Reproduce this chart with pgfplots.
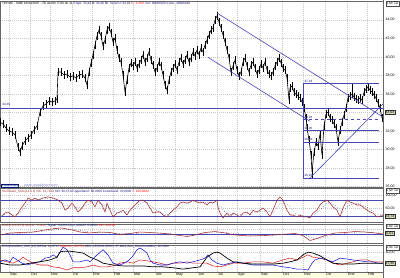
\documentclass[border=0pt]{standalone}
\usepackage{pgfplots}
\pgfplotsset{compat=1.18}
\usepackage{fontspec}
\setmainfont{Liberation Sans}
\definecolor{lineblue}{RGB}{70,70,180}
\definecolor{stochred}{RGB}{165,45,45}
\definecolor{navy}{RGB}{20,20,120}
\definecolor{dmiblue}{RGB}{25,25,210}
\definecolor{dmired}{RGB}{215,35,35}
\definecolor{cream}{RGB}{255,255,226}
\definecolor{hilite}{RGB}{215,215,185}
\newcommand{\tf}{\fontsize{3.6}{4}\selectfont}
\newcommand{\smf}{\fontsize{3.1}{3.5}\selectfont}
\pgfplotsset{
  panel/.style={
    scale only axis, width=383bp, xmin=0, xmax=383, anchor=south west,
    axis line style={black!60, line width=0.4pt},
    xtick={9,30,50,72,92,113,133,155,175,197,217,237,260,282,303,325,347,367},
    xticklabels={}, xmajorgrids, ymajorgrids,
    grid style={gray!45, dash pattern=on 1pt off 1pt, line width=0.3pt},
    major tick length=0pt,
    yticklabel pos=right,
    yticklabel style={font=\tf, inner sep=1pt, xshift=1.5bp},
    /pgf/number format/.cd, use comma, fixed, fixed zerofill, precision=2, assume math mode=true,
  },
}
\tikzset{curbox/.style={anchor=west, font=\tf, fill=hilite, draw=black!80, line width=0.35pt, inner sep=0.6pt},
         topbox/.style={anchor=north west, font=\smf, draw=black!70, line width=0.3pt, inner sep=0.5pt, fill=white}}
\begin{document}
\begin{tikzpicture}
\useasboundingbox (0,0) rectangle (400bp,278bp);
\fill[white] (0,0) rectangle (400bp,278bp);
\fill[cream] (0,0) rectangle (383bp,6bp);

% ---------------- main price panel
\begin{axis}[panel, at={(0bp,91bp)}, height=186bp, ymin=25.95, ymax=46.05, ytick={26,28,30,32,34,36,38,40,42,44}]
\addplot[black, line width=0.6pt, mark=none, error bars/.cd, y dir=both, y fixed=0.42, error mark=none, error bar style={line width=0.9pt, black}] coordinates {
(0,32.97)(3,32.75)(6,32.32)(9,32.00)(12,31.89)(15,31.57)(18,30.27)(20,29.73)(22,30.38)(25,30.92)(28,31.24)(31,31.57)(34,32.11)(37,32.54)(40,34.05)(43,34.70)(46,34.92)(49,35.24)(52,35.13)(55,35.24)(57,35.46)(58,38.38)(61,38.38)(64,38.05)(67,38.16)(70,37.84)(73,37.95)(76,37.73)(79,38.05)(82,38.16)(85,37.73)(87,36.97)(89,38.38)(91,39.35)(93,40.22)(95,41.30)(97,42.27)(99,42.92)(101,42.27)(103,41.19)(105,41.84)(107,42.92)(109,43.24)(111,42.59)(113,41.62)(115,42.05)(117,40.76)(119,39.89)(121,39.46)(123,38.05)(125,36.21)(127,37.51)(129,38.81)(131,39.35)(133,39.03)(135,39.46)(137,38.81)(139,39.24)(141,39.67)(143,40.22)(145,39.46)(147,39.89)(149,40.54)(151,39.67)(153,39.13)(155,38.38)(157,38.81)(159,39.46)(161,39.03)(163,38.05)(165,36.97)(167,36.43)(169,37.51)(171,38.38)(173,38.81)(175,39.24)(177,38.59)(179,39.46)(181,39.89)(183,39.24)(185,39.67)(187,40.22)(189,39.46)(191,39.89)(193,40.54)(195,40.11)(197,40.76)(199,40.22)(201,40.97)(203,40.54)(205,41.30)(207,41.84)(209,42.38)(211,42.92)(213,43.13)(215,44.00)(217,44.43)(219,43.78)(221,43.13)(223,42.38)(225,41.62)(227,40.76)(229,39.89)(231,38.38)(233,39.03)(235,39.67)(237,38.59)(239,37.95)(241,38.38)(243,39.46)(245,39.89)(247,39.03)(249,38.38)(251,39.13)(253,39.46)(255,38.81)(257,38.16)(259,38.59)(261,39.24)(263,38.81)(265,39.46)(267,38.59)(269,38.16)(271,37.95)(273,38.38)(275,39.03)(277,39.46)(279,39.89)(281,39.35)(283,38.81)(285,38.59)(287,37.73)(289,35.35)(290,36.65)(292,36.86)(294,36.21)(296,36.00)(298,35.78)(300,35.57)(302,35.13)(304,34.49)(306,33.41)(307,32.32)(309,31.03)(311,29.40)(312,27.57)(314,29.73)(316,30.81)(318,30.38)(320,31.67)(322,29.40)(324,32.54)(326,33.84)(328,34.05)(330,33.41)(332,33.19)(334,32.76)(336,32.32)(338,30.81)(340,32.11)(342,32.97)(344,33.73)(346,34.49)(348,35.57)(350,35.78)(352,36.00)(354,35.67)(356,35.46)(358,35.35)(360,35.57)(362,35.35)(364,36.21)(366,36.54)(368,36.76)(370,36.43)(372,36.21)(374,35.89)(376,35.57)(378,35.03)(380,34.49)(382,33.40)};
\addplot[black, line width=0.8pt] coordinates {(352,35.9)(352,37.18)};
\addplot[black, line width=0.8pt] coordinates {(312,27.3)(312,26.92)};
% horizontal support/resistance
\addplot[lineblue, line width=0.7pt] coordinates {(0,34.49)(383,34.49)};
% channel
\addplot[lineblue, line width=0.6pt] coordinates {(217,44.75)(383,33.51)};
\addplot[lineblue, line width=0.6pt] coordinates {(208,39.96)(310,33.05)};
% rising support
\addplot[lineblue, line width=0.6pt] coordinates {(310,26.92)(383,34.92)};
% Fibonacci box
\addplot[lineblue, line width=0.5pt] coordinates {(303,26.92)(303,37.18)(379,37.18)};
\addplot[lineblue, line width=0.4pt, dashed] coordinates {(303,33.26)(379,33.26)};
\addplot[lineblue, line width=0.4pt] coordinates {(303,32.05)(379,32.05)};
\addplot[lineblue, line width=0.4pt] coordinates {(303,30.84)(379,30.84)};
\addplot[lineblue, line width=0.5pt] coordinates {(303,26.92)(379,26.92)};
\end{axis}

% ---------------- stochastic panel
\begin{axis}[panel, at={(0bp,56bp)}, height=34bp, ymin=0, ymax=126, ytick={50,100}]
\addplot[lineblue, line width=0.5pt] coordinates {(0,80)(383,80)};
\addplot[lineblue, line width=0.5pt] coordinates {(0,20)(383,20)};
\addplot[stochred, line width=0.55pt] coordinates {
(2,22)(5,33)(8,37)(12,26)(15,19)(18,33)(22,56)(25,70)(28,89)(32,81)(35,89)(38,81)(43,89)(48,93)(53,89)(58,81)(62,70)(65,44)(68,52)(72,70)(75,56)(78,37)(82,52)(85,70)(88,81)(92,74)(95,56)(98,81)(102,63)(105,37)(107,70)(110,44)(113,19)(117,33)(120,37)(123,44)(127,26)(130,44)(133,56)(137,70)(140,81)(143,81)(147,70)(150,52)(153,33)(157,37)(160,37)(163,26)(167,19)(170,33)(173,44)(177,56)(180,70)(183,74)(187,70)(190,74)(193,81)(197,74)(200,70)(203,74)(207,63)(210,74)(213,70)(217,81)(218,56)(220,33)(223,15)(227,33)(230,19)(233,33)(237,26)(240,19)(243,33)(247,37)(250,26)(253,44)(257,37)(260,44)(263,52)(267,37)(270,19)(273,44)(277,81)(280,93)(283,81)(287,44)(290,26)(293,26)(297,19)(300,26)(303,19)(307,19)(310,15)(313,33)(317,44)(320,63)(323,74)(327,81)(330,70)(333,56)(337,44)(340,19)(343,52)(347,81)(350,74)(353,70)(357,63)(360,63)(363,56)(367,44)(370,37)(373,33)(377,19)(380,22)(383,24)};
\addplot[navy, line width=0.45pt, dotted] coordinates {
(2,25)(8,30)(15,26)(20,35)(25,55)(30,75)(38,84)(48,88)(58,84)(65,62)(72,58)(78,52)(85,58)(92,74)(98,70)(105,60)(110,50)(117,34)(125,36)(133,44)(140,68)(147,76)(153,50)(160,36)(167,26)(175,40)(183,62)(193,76)(203,74)(213,70)(220,58)(227,30)(237,26)(247,30)(257,36)(267,42)(273,34)(280,70)(287,70)(295,32)(305,22)(312,20)(320,44)(327,72)(335,62)(342,36)(348,60)(357,70)(367,54)(377,30)(383,26)};
\end{axis}

% ---------------- MACD panel
\begin{axis}[panel, at={(0bp,35bp)}, height=19bp, ymin=-1.8, ymax=2.0, ytick={1}, yticklabels={}]
\addplot[lineblue, line width=0.5pt] coordinates {(0,0)(383,0)};
\addplot[stochred, line width=0.55pt] coordinates {
(0,-0.2)(10,0.2)(20,0.3)(33,0.4)(45,0.8)(55,1.1)(62,1.2)(70,0.9)(80,0.4)(90,0.2)(100,0.4)(110,0.3)(120,-0.1)(130,0.1)(140,0.4)(150,0.3)(165,0.1)(180,-0.3)(187,-0.5)(195,-0.2)(205,0.3)(215,0.5)(225,0.2)(235,-0.2)(250,-0.4)(265,-0.3)(280,-0.1)(295,0.1)(303,-0.3)(310,-1.3)(317,-0.9)(325,-0.3)(335,0.2)(345,0.3)(355,0.5)(365,0.4)(375,0.2)(383,0.0)};
\addplot[navy, line width=0.45pt, dotted] coordinates {
(0,-0.1)(15,0.1)(30,0.3)(45,0.6)(58,0.9)(68,1.0)(80,0.7)(92,0.4)(105,0.3)(118,0.1)(130,0.05)(145,0.2)(160,0.2)(175,0.0)(190,-0.3)(200,-0.1)(212,0.3)(225,0.3)(240,0.0)(255,-0.3)(270,-0.3)(290,-0.05)(305,-0.2)(314,-0.9)(322,-0.8)(332,-0.2)(345,0.1)(358,0.4)(370,0.35)(383,0.15)};
\end{axis}

% ---------------- DMI panel
\begin{axis}[panel, at={(0bp,6bp)}, height=27bp, ymin=-2.2, ymax=56.5, ytick={40},
  xticklabels={Sep,Oct,Nov,Dic,Ene,Feb,Mar,Abr,May,Jun,Jul,Ago,Sep,Oct,Nov,Dic,Ene,Feb},
  xticklabel style={font=\tf, anchor=north west, inner sep=0.4pt, xshift=0.6bp, yshift=-0.6bp}]
\addplot[gray!70, line width=0.5pt, dotted] coordinates {
(0,15)(20,14)(40,16)(60,24)(70,32)(80,37)(90,38)(100,34)(110,26)(120,19)(133,14)(150,11)(170,9)(190,7)(200,8)(210,18)(220,30)(230,30)(240,22)(255,16)(275,15)(290,17)(300,24)(310,32)(320,36)(330,28)(340,21)(355,16)(370,16)(383,17)};
\addplot[dmired, line width=0.55pt] coordinates {
(0,24)(7,20)(13,17)(20,24)(23,30)(27,24)(33,17)(40,13)(47,13)(53,9)(60,7)(67,2)(73,7)(80,7)(87,9)(93,13)(100,9)(107,9)(113,11)(120,17)(127,20)(133,17)(140,24)(147,22)(153,20)(160,17)(167,13)(173,17)(180,17)(187,20)(193,17)(200,17)(207,17)(213,11)(220,9)(227,13)(233,17)(243,17)(253,20)(263,20)(273,17)(283,24)(290,28)(297,24)(303,30)(308,35)(313,30)(320,28)(327,24)(333,17)(340,13)(347,17)(353,20)(360,24)(367,24)(373,20)(378,20)(383,20)};
\addplot[dmiblue, line width=0.55pt] coordinates {
(0,20)(5,24)(10,20)(13,30)(17,24)(22,17)(27,13)(33,17)(40,20)(45,28)(50,30)(53,35)(57,30)(60,41)(63,52)(67,46)(70,35)(73,20)(80,20)(87,24)(90,20)(97,35)(103,46)(108,35)(113,17)(120,13)(127,20)(132,30)(137,46)(140,50)(143,46)(147,39)(150,24)(153,17)(160,13)(167,13)(173,17)(180,20)(187,17)(193,20)(200,24)(205,28)(208,35)(212,24)(217,17)(223,13)(230,17)(237,20)(243,17)(253,13)(263,13)(273,13)(283,9)(290,7)(297,4)(303,4)(308,2)(312,17)(315,24)(320,28)(327,24)(333,20)(340,28)(347,26)(353,24)(360,22)(367,20)(373,20)(378,17)(383,17)};
\addplot[black, line width=0.7pt] coordinates {
(0,17)(10,13)(20,13)(30,17)(40,20)(50,24)(57,30)(60,41)(63,43)(70,43)(77,41)(83,39)(90,30)(97,24)(103,17)(113,13)(123,11)(133,11)(143,11)(153,9)(163,9)(173,7)(183,4)(193,7)(200,9)(207,30)(213,39)(217,41)(220,39)(227,28)(233,20)(243,17)(253,15)(263,15)(273,15)(283,17)(290,20)(297,24)(303,35)(308,41)(313,39)(320,33)(327,24)(333,17)(343,15)(353,15)(363,17)(373,17)(383,17)};
\end{axis}

% ---------------- texts
\node[anchor=west, font=\smf, inner sep=0pt] at (2bp,274.5bp) {TEF.MC - SIBE 16/03/2007 - Tik de Rm V:Vol de 11 \textcolor{navy}{P.Ape: 33,44 M: 33,48 Mi: 32,92 U: 33,03} \textcolor{red}{V: -1,25\%} \textcolor{navy}{Vol: 36845928 V.Acu: 36845928}};
\node[anchor=west, font=\smf, inner sep=0pt] at (2bp,86bp) {\textcolor{stochred}{Stochastic\_Slow(14,3,3) \%K: 23,7416} \textcolor{navy}{\%D: 30,3712 Upperband: 80,0000 Lowerband: 20,0000} \textcolor{red}{?: 100,0000}};
\node[anchor=west, font=\smf, inner sep=0pt] at (2bp,52.5bp) {\textcolor{stochred}{MACD (12,26,9) MACD: -0,0097} \textcolor{navy}{Signal: 0,0093 Zero\_MACD: 0,0000} \textcolor{red}{Hist: -0,0190}};
\node[anchor=west, font=\smf, inner sep=0pt] at (2bp,31bp) {\textcolor{navy}{DirectionalMov\_DMI (14) DiPlus: 16,9717} \textcolor{red}{DiMinus: 19,6711} \textcolor{navy}{ADX: 18,5203 ADXR: 17,9611 Zero\_DirectionalMov: 20,0000}};
% watermark
\node[anchor=west, font=\smf, fill=cyan!15, draw=navy, line width=0.3pt, inner sep=0.6pt, text=navy] at (1bp,92.5bp) {VisualChart};
\node[anchor=west, font=\tf, inner sep=0pt, text=lineblue!70] at (24bp,92.5bp) {www.visualchart.com};
% level labels
\node[anchor=south west, font=\smf, inner sep=0.3pt, text=navy] at (2bp,171.2bp) {34,49};
\node[anchor=south west, font=\smf, inner sep=0.3pt, text=navy] at (304bp,194.6bp) {37,18};
\node[anchor=south west, font=\smf, inner sep=0.3pt, text=navy] at (304bp,158.9bp) {33,26};
\node[anchor=south west, font=\smf, inner sep=0.3pt, text=navy] at (304bp,147.8bp) {32,05};
\node[anchor=south west, font=\smf, inner sep=0.3pt, text=navy] at (304bp,136.5bp) {30,84};
\node[anchor=south west, font=\smf, inner sep=0.3pt, text=navy] at (304bp,100.3bp) {26,92};
% scale boxes at top of each panel
\node[topbox] at (386bp,276.5bp) {x,00 $\approx$};
\node[topbox] at (386bp,89.5bp) {x,00 $\approx$};
\node[topbox] at (386bp,54bp) {x,00 $\approx$};
\node[topbox] at (386bp,32.5bp) {x,00 $\approx$};
% current value boxes
\node[curbox] at (384.5bp,166bp) {33,03};
\node[curbox] at (384.5bp,61.5bp) {23,74};
\node[curbox] at (384.5bp,44.5bp) {-0,01};
\node[curbox] at (384.5bp,15bp) {17,96};
\draw[black!60, line width=0.4pt] (383bp,0) -- (383bp,278bp);
\end{tikzpicture}
\end{document}
